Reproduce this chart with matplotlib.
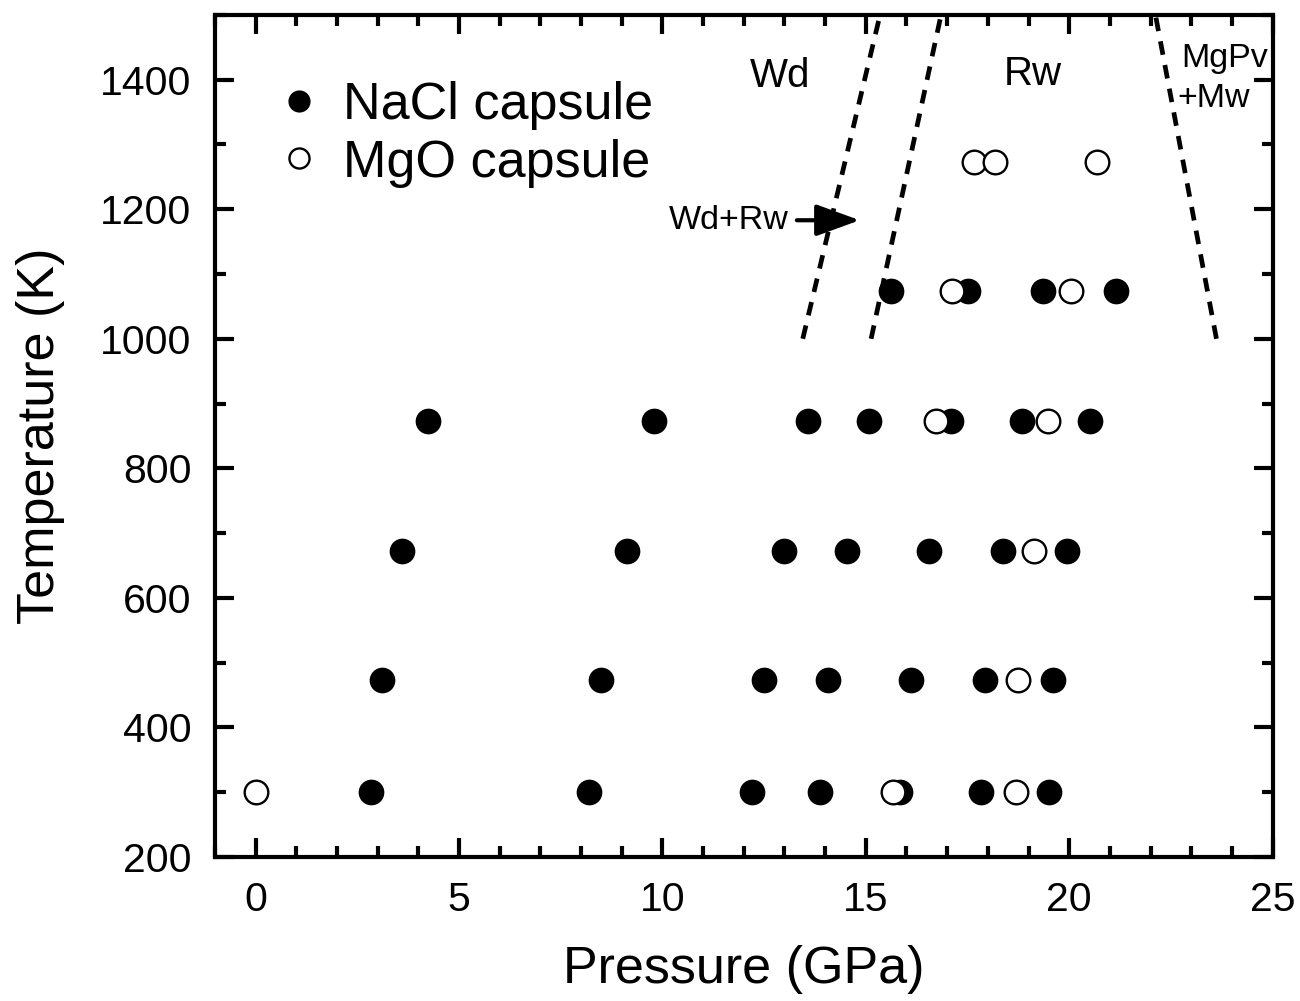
import numpy as np
import matplotlib.pyplot as plt

plt.rcParams['font.family'] = ['Liberation Sans', 'DejaVu Sans']

# NaCl capsule (filled) : pressure (GPa), temperature (K)
nacl_P = [2.83, 8.19, 12.2, 13.87, 15.84, 17.82, 19.5,
          3.1, 8.48, 12.5, 14.06, 16.12, 17.92, 19.59,
          3.6, 9.12, 12.98, 14.53, 16.55, 18.37, 19.94,
          4.23, 9.79, 13.57, 15.09, 17.09, 18.84, 20.52,
          15.62, 17.51, 19.35, 21.16]
nacl_T = [300] * 7 + [473] * 7 + [673] * 7 + [873] * 7 + [1073] * 4

# MgO capsule (open)
mgo_P = [0.0, 15.67, 18.68, 18.75, 19.13, 16.73, 19.47, 17.13, 20.05, 17.65, 18.17, 20.69]
mgo_T = [300, 300, 300, 473, 673, 873, 873, 1073, 1073, 1273, 1273, 1273]

# phase boundaries (P at 1000 K, P at 1500 K)
bound_T = [1000, 1500]
wd_wdrw = [13.45, 15.35]
wdrw_rw = [15.13, 16.85]
rw_pv = [23.62, 22.12]

fig = plt.figure(figsize=(13, 10.01), dpi=100)
ax = fig.add_axes([0.1654, 0.1439, 0.8135, 0.8412])

for b in (wd_wdrw, wdrw_rw, rw_pv):
    ax.plot(b, bound_T, color='black', lw=3.4, dashes=(2.9, 2.2), zorder=1)

ax.plot(nacl_P, nacl_T, 'o', ms=17, mfc='black', mec='black', mew=1.5,
        ls='none', label='NaCl capsule', zorder=3)
ax.plot(mgo_P, mgo_T, 'o', ms=17, mfc='white', mec='black', mew=1.7,
        ls='none', label='MgO capsule', zorder=4)

ax.text(12.9, 1405, 'Wd', fontsize=29, ha='center', va='center')
ax.text(19.1, 1409, 'Rw', fontsize=29, ha='center', va='center')
ax.text(22.75, 1433, 'MgPv', fontsize=24.5, ha='left', va='center')
ax.text(22.65, 1371, '+Mw', fontsize=24.5, ha='left', va='center')
ax.annotate('Wd+Rw', xy=(14.85, 1183), xytext=(13.1, 1183), fontsize=24.5,
            ha='right', va='center',
            arrowprops=dict(arrowstyle='-|>,head_length=1.1,head_width=0.4',
                            color='black', lw=3, shrinkA=4, shrinkB=0))

ax.set_xlim(-1, 25)
ax.set_ylim(200, 1500)
ax.set_xticks([0, 5, 10, 15, 20, 25])
ax.set_xticks(np.arange(-1, 26, 1), minor=True)
ax.set_yticks(np.arange(200, 1401, 200))
ax.set_yticks(np.arange(200, 1501, 100), minor=True)
ax.tick_params(which='both', direction='in', top=True, right=True, width=3,
               labelsize=29.5, pad=17)
ax.tick_params(which='major', length=13.5)
ax.tick_params(which='minor', length=8)
for s in ax.spines.values():
    s.set_linewidth(3)

ax.set_xlabel('Pressure (GPa)', fontsize=37.5, labelpad=19)
ax.set_ylabel('Temperature (K)', fontsize=37.5, labelpad=25)

ax.legend(loc='upper left', bbox_to_anchor=(0.04, 0.952), frameon=False,
          fontsize=37.5, markerscale=0.85, handlelength=0.6, handletextpad=0.55,
          labelspacing=0.16, borderpad=0)

fig.savefig('out.png', dpi=100)
